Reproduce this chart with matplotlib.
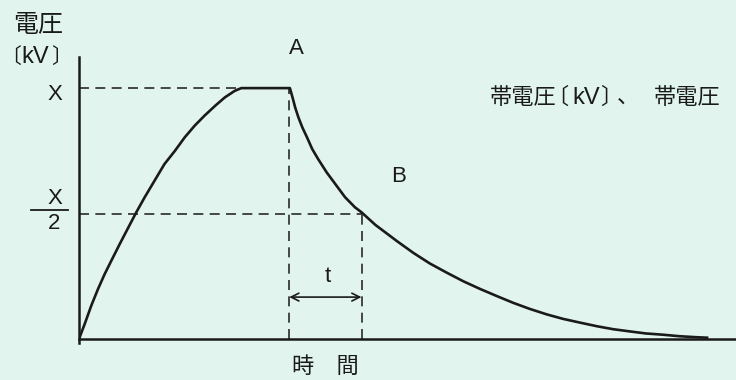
import matplotlib
matplotlib.use("Agg")
import matplotlib.pyplot as plt
from matplotlib.lines import Line2D

plt.rcParams["font.family"] = ["Liberation Sans", "Noto Sans CJK JP"]

# time in arbitrary units (0-100 across the axis), voltage as fraction of X
rise_t = [0.0, 0.87, 1.87, 2.89, 3.91, 4.92, 6.19, 7.46, 8.72, 10.0, 11.5,
          13.0, 14.6, 16.1, 17.6, 19.1, 20.7, 22.2, 23.7, 24.7]
rise_v = [0.0, 0.060, 0.133, 0.199, 0.259, 0.312, 0.378, 0.442, 0.505, 0.565,
          0.631, 0.697, 0.750, 0.804, 0.850, 0.890, 0.929, 0.963, 0.989, 1.0]
hold_t = [24.7, 32.1]
hold_v = [1.0, 1.0]
decay_t = [32.1, 32.5, 32.9, 33.4, 34.0, 34.7, 35.5, 36.4, 37.7, 39.0, 40.5,
           42.0, 43.0, 45.1, 48.4, 50.9, 53.4, 56.0, 58.5, 61.0, 63.6, 66.1,
           68.6, 71.2, 73.7, 76.3, 78.8, 81.3, 83.9, 86.3, 88.9, 91.4, 94.0,
           95.8]
decay_v = [1.0, 0.963, 0.923, 0.883, 0.843, 0.804, 0.757, 0.717, 0.664, 0.618,
           0.565, 0.525, 0.505, 0.455, 0.390, 0.343, 0.301, 0.264, 0.230,
           0.200, 0.171, 0.144, 0.120, 0.098, 0.080, 0.065, 0.051, 0.039,
           0.030, 0.022, 0.017, 0.011, 0.007, 0.005]

t_a = 32.0      # point A (start of decay)
t_half = 43.0   # time where voltage falls to X/2
arrow_v = 0.167

BG = "#e1f4ee"
INK = "#1a1a1a"
DASH = "#2a2a2a"

W, H = 736, 380
fig = plt.figure(figsize=(W / 100, H / 100), dpi=100, facecolor=BG)
ax = fig.add_axes([79 / W, (H - 343) / H, (W - 79) / W, 286 / H])
ax.set_facecolor(BG)
ax.set_xlim(0, 100)
ax.set_ylim(-0.016, 1.124)

for side in ("top", "right"):
    ax.spines[side].set_visible(False)
ax.spines["bottom"].set_position(("data", 0))
for side in ("left", "bottom"):
    ax.spines[side].set_linewidth(1.8)
    ax.spines[side].set_color(INK)
ax.set_xticks([])
ax.set_yticks([])

curve_t = rise_t + hold_t[1:] + decay_t[1:]
curve_v = rise_v + hold_v[1:] + decay_v[1:]
ax.plot(curve_t, curve_v, color=INK, lw=1.9, solid_joinstyle="round",
        solid_capstyle="butt", zorder=3)

dash = dict(color=DASH, lw=1.2, linestyle=(0, (6.0, 3.8)), zorder=2)
ax.plot([0, rise_t[-1]], [1, 1], **dash)
ax.plot([0, t_half], [0.5, 0.5], **dash)
ax.plot([t_a, t_a], [0, 1], **dash)
ax.plot([t_half, t_half], [0, 0.5], **dash)

ax.annotate("", xy=(t_a, arrow_v), xytext=(t_half, arrow_v),
            arrowprops=dict(arrowstyle="<->", color=INK, lw=1.2,
                            mutation_scale=14, shrinkA=0, shrinkB=0))


def px_text(x, y, s, size, **kw):
    fig.text(x / W, 1 - y / H, s, fontsize=size, color=INK,
             ha=kw.pop("ha", "center"), va=kw.pop("va", "center"), **kw)


# y-axis title (brackets set apart so they sit tight, as in the original)
px_text(38, 25, "電圧", 18)
px_text(11, 63, "〔", 15, va="baseline")
px_text(35, 63, "kV", 17, va="baseline")
px_text(62, 63, "〕", 15, va="baseline")

# tick labels
px_text(55, 94, "X", 16)
px_text(55, 199, "X", 16)
px_text(54, 223, "2", 16)
fig.add_artist(Line2D([31 / W, 68 / W], [1 - 210 / H, 1 - 210 / H],
                      color=INK, lw=1.3))

px_text(296, 49, "A", 16)
px_text(399, 177, "B", 16)
px_text(328, 277, "t", 16)
px_text(325, 367, "時　間", 16)

# caption on the right, set piece by piece
px_text(490, 104, "帯電圧", 16, ha="left", va="baseline")
px_text(557, 104, "〔", 16, va="baseline")
px_text(586, 104, "kV", 17, va="baseline")
px_text(611, 104, "〕", 16, va="baseline")
px_text(628, 104, "、", 16, va="baseline")
px_text(654, 104, "帯電圧", 16, ha="left", va="baseline")

fig.savefig("out.png", dpi=100, facecolor=BG)
